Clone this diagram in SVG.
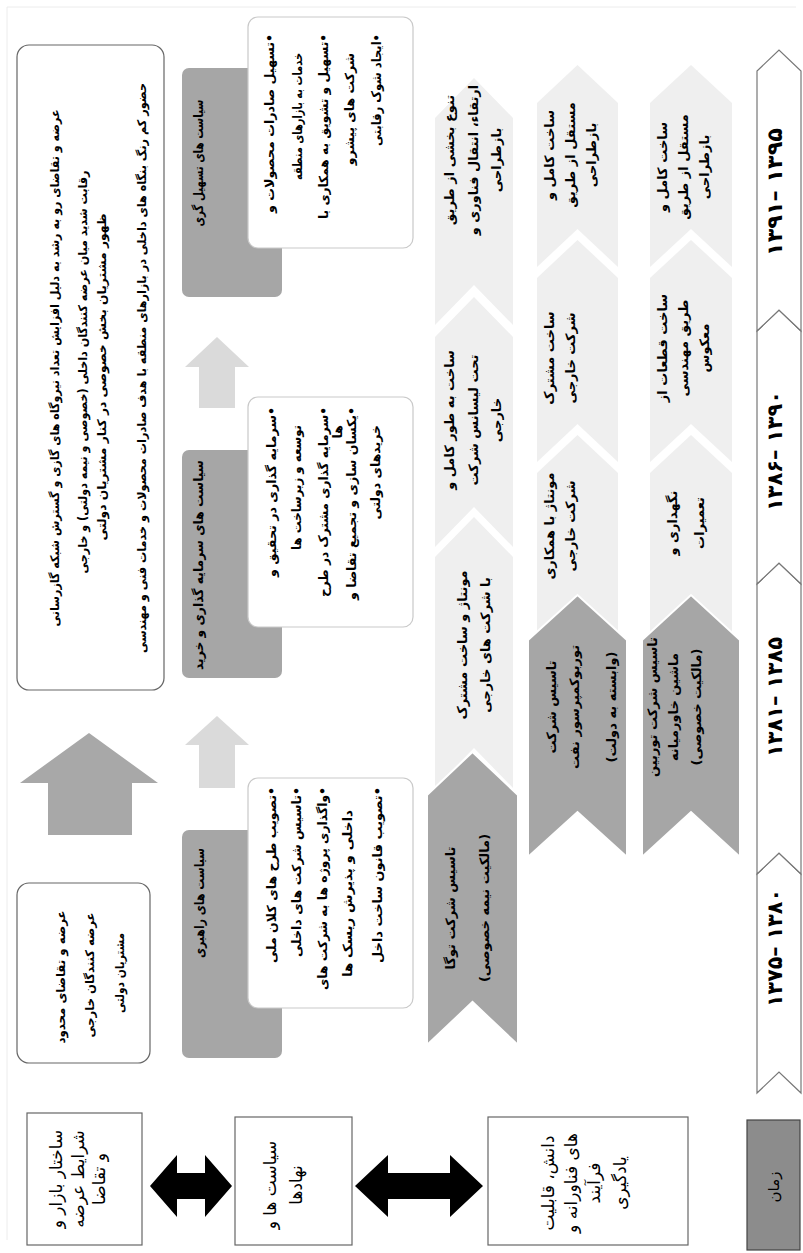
<svg xmlns="http://www.w3.org/2000/svg" width="803" height="1253" viewBox="0 0 803 1253">
<style>
text{font-family:"DejaVu Sans","Noto Sans",sans-serif;fill:#000;}
.r{direction:rtl;text-anchor:middle;}
.rs{direction:rtl;text-anchor:start;}
.t12{font-size:12px;font-weight:bold;}
.b13{font-size:12.5px;font-weight:bold;}
.hd{font-size:13px;font-weight:bold;}
.cv{font-size:13px;font-weight:bold;}
.big{font-size:17px;}
.tl{font-size:21px;font-weight:bold;text-anchor:middle;}
.hdr{fill:#a6a6a6;}
.wbox{fill:#fff;stroke:#c9c9c9;stroke-width:1.2;}
.obox{fill:#fff;stroke:#666;stroke-width:1.2;}
.lch{fill:#efefef;}
.dch{fill:#a6a6a6;stroke:#fff;stroke-width:2;}
.tch{fill:#fff;stroke:#777;stroke-width:1.2;}
.blk{fill:#000;}
.frame{stroke:#ececec;stroke-width:1;fill:none;}
</style>
<rect width="803" height="1253" fill="#fff"/>
<path class="frame" d="M7,1240 V7 H796"/>
<g transform="translate(0 1253) rotate(-90)">
<g id="connectors">
<polygon class="blk" points="67,150 98,177 80,177 80,205 98,205 67,232 36,205 54,205 54,177 36,177"/>
<polygon class="blk" points="67,355 98,388 80,388 80,450 98,450 67,483 36,450 54,450 54,388 36,388"/>
<polygon fill="#a8a8a8" points="418,48 470,48 470,20 520,89 470,158 470,132 418,132"/>
<polygon fill="#dadada" points="465,199 508,199 508,185 537,217 508,249 508,235 465,235"/>
<polygon fill="#dadada" points="845,199 886,199 886,185 916,217 886,249 886,235 845,235"/>
</g>
<g id="n-market">
<rect class="obox" x="8" y="27" width="132" height="115"/>
<text class="r big" x="74" y="62">ساختار بازار و</text>
<text class="r big" x="74" y="84">شرایط عرضه</text>
<text class="r big" x="74" y="105">و تقاضا</text>
</g>
<g id="n-policy">
<rect class="obox" x="8" y="235" width="128" height="117"/>
<text class="r big" x="68" y="276">سیاست ها و</text>
<text class="r big" x="68" y="302">نهادها</text>
</g>
<g id="n-knowledge">
<rect class="obox" x="8" y="488" width="128" height="200"/>
<text class="r big" x="70" y="554">دانش، قابلیت</text>
<text class="r big" x="70" y="577">های فناورانه و</text>
<text class="r big" x="70" y="600">فرآیند</text>
<text class="r big" x="70" y="626">یادگیری</text>
</g>
<g id="n-time">
<rect x="3" y="747" width="130" height="53" fill="#8c8c8c" stroke="#444" stroke-width="1.2"/>
<text class="r" x="66" y="779" font-size="15">زمان</text>
</g>
<g id="n-limited">
<rect class="obox" x="190" y="17" width="180" height="133" rx="12"/>
<text class="r t12" x="276" y="65" textLength="133" lengthAdjust="spacingAndGlyphs">عرضه و تقاضای محدود</text>
<text class="r t12" x="278" y="94" textLength="125" lengthAdjust="spacingAndGlyphs">عرضه کنندگان خارجی</text>
<text class="r t12" x="280" y="124" textLength="80" lengthAdjust="spacingAndGlyphs">مشتریان دولتی</text>
</g>
<g id="n-growing">
<rect class="obox" x="563" y="17" width="645" height="147" rx="12"/>
<text class="r t12" x="885" y="59" textLength="517" lengthAdjust="spacingAndGlyphs">عرضه و تقاضای رو به رشد به دلیل افزایش تعداد نیروگاه های گازی و گسترش شبکه گازرسانی</text>
<text class="r t12" x="881" y="87" textLength="403" lengthAdjust="spacingAndGlyphs">رقابت شدید میان عرضه کنندگان داخلی (خصوصی و نیمه دولتی) و خارجی</text>
<text class="r t12" x="876" y="106" textLength="327" lengthAdjust="spacingAndGlyphs">ظهور مشتریان بخش خصوصی در کنار مشتریان دولتی</text>
<text class="r t12" x="885" y="146" textLength="570" lengthAdjust="spacingAndGlyphs">حضور کم رنگ بنگاه های داخلی در بازارهای منطقه با هدف صادرات محصولات و خدمات فنی و مهندسی</text>
</g>
<g id="n-leadership">
<rect class="hdr" x="195" y="182" width="228" height="100" rx="7"/>
<text class="r hd" x="350" y="204" textLength="110" lengthAdjust="spacingAndGlyphs">سیاست های راهبری</text>
<rect class="wbox" x="245" y="248" width="230" height="165" rx="10"/>
<text class="rs b13" x="466" y="276" textLength="176" lengthAdjust="spacingAndGlyphs">•تصویب طرح های کلان ملی</text>
<text class="rs b13" x="466" y="301" textLength="170" lengthAdjust="spacingAndGlyphs">•تاسیس شرکت های داخلی</text>
<text class="rs b13" x="466" y="327" textLength="203" lengthAdjust="spacingAndGlyphs">•واگذاری پروژه ها به شرکت های</text>
<text class="rs b13" x="443" y="352" textLength="167" lengthAdjust="spacingAndGlyphs">داخلی و پذیرش ریسک ها</text>
<text class="rs b13" x="466" y="382" textLength="176" lengthAdjust="spacingAndGlyphs">•تصویب قانون ساخت داخل</text>
</g>
<g id="n-investment">
<rect class="hdr" x="575" y="182" width="228" height="100" rx="7"/>
<text class="r hd" x="688" y="203" textLength="210" lengthAdjust="spacingAndGlyphs">سیاست های سرمایه گذاری و خرید</text>
<rect class="wbox" x="626" y="248" width="230" height="165" rx="10"/>
<text class="rs b13" x="846" y="276" textLength="170" lengthAdjust="spacingAndGlyphs">•سرمایه گذاری در تحقیق و</text>
<text class="rs b13" x="828" y="301" textLength="125" lengthAdjust="spacingAndGlyphs">توسعه و زیرساخت ها</text>
<text class="rs b13" x="846" y="328" textLength="190" lengthAdjust="spacingAndGlyphs">•سرمایه گذاری مشترک در طرح</text>
<text class="rs b13" x="828" y="342">ها</text>
<text class="rs b13" x="846" y="356" textLength="193" lengthAdjust="spacingAndGlyphs">•یکسان سازی و تجمیع تقاضا و</text>
<text class="rs b13" x="828" y="380">خریدهای دولتی</text>
</g>
<g id="n-facilitation">
<rect class="hdr" x="956" y="182" width="229" height="100" rx="7"/>
<text class="r hd" x="1090" y="203" textLength="127" lengthAdjust="spacingAndGlyphs">سیاست های تسهیل گری</text>
<rect class="wbox" x="1005" y="248" width="231" height="165" rx="10"/>
<text class="rs b13" x="1219" y="274" textLength="179" lengthAdjust="spacingAndGlyphs">•تسهیل صادرات محصولات و</text>
<text class="rs b13" x="1200" y="302" textLength="127" lengthAdjust="spacingAndGlyphs">خدمات به بازارهای منطقه</text>
<text class="rs b13" x="1219" y="328" textLength="185" lengthAdjust="spacingAndGlyphs">•تسهیل و تشویق به همکاری با</text>
<text class="rs b13" x="1200" y="354">شرکت های پیشرو</text>
<text class="rs b13" x="1219" y="381" textLength="112" lengthAdjust="spacingAndGlyphs">•ایجاد شوک رقابتی</text>
</g>
<g id="row1">
<polygon class="lch" points="928,435 1135,435 1175,474 1135,513 928,513 968,474"/>
<polygon class="lch" points="706,435 916,435 956,474 916,513 706,513 746,474"/>
<polygon class="lch" points="465,435 696,435 736,474 696,513 465,513 505,474"/>
<polygon class="dch" points="208,427 458,427 501,472.5 458,518 208,518 251,472.5"/>
<text class="r cv" x="1093" y="454">تنوع بخشی از طریق</text>
<text class="r cv" x="1093" y="478">ارتقاء، انتقال فناوری و</text>
<text class="r cv" x="1093" y="501">بازطراحی</text>
<text class="r cv" x="833" y="454">ساخت به طور کامل و</text>
<text class="r cv" x="833" y="478">تحت لیسانس شرکت</text>
<text class="r cv" x="833" y="501">خارجی</text>
<text class="r cv" x="608" y="467">مونتاژ و ساخت مشترک</text>
<text class="r cv" x="608" y="490">با شرکت های خارجی</text>
<text class="r cv" x="345" y="455">تاسیس شرکت توگا</text>
<text class="r cv" x="345" y="489">(مالکیت نیمه خصوصی)</text>
</g>
<g id="row2">
<polygon class="lch" points="986,537 1150,537 1188,577.5 1150,618 986,618 1024,577.5"/>
<polygon class="lch" points="791,537 975,537 1013,577.5 975,618 791,618 829,577.5"/>
<polygon class="lch" points="620,537 780,537 818,577.5 780,618 620,618 658,577.5"/>
<polygon class="dch" points="396,528 613,528 658,577.5 613,627 396,627 441,577.5"/>
<text class="r cv" x="1098" y="554">ساخت کامل و</text>
<text class="r cv" x="1098" y="575">مستقل از طریق</text>
<text class="r cv" x="1098" y="596">بازطراحی</text>
<text class="r cv" x="895" y="554">ساخت مشترک</text>
<text class="r cv" x="895" y="575">شرکت خارجی</text>
<text class="r cv" x="727" y="554">مونتاژ با همکاری</text>
<text class="r cv" x="727" y="575">شرکت خارجی</text>
<text class="r cv" x="546" y="556">تاسیس شرکت</text>
<text class="r cv" x="546" y="579">توربوکمپرسور نفت</text>
<text class="r cv" x="546" y="616">(وابسته به دولت)</text>
</g>
<g id="row3">
<polygon class="lch" points="986,650 1150,650 1188,691 1150,732 986,732 1024,691"/>
<polygon class="lch" points="791,650 975,650 1013,691 975,732 791,732 829,691"/>
<polygon class="lch" points="620,650 780,650 818,691 780,732 620,732 658,691"/>
<polygon class="dch" points="396,642 613,642 658,691 613,740 396,740 441,691"/>
<text class="r cv" x="1086" y="667">ساخت کامل و</text>
<text class="r cv" x="1086" y="688">مستقل از طریق</text>
<text class="r cv" x="1086" y="709">بازطراحی</text>
<text class="r cv" x="905" y="667">ساخت قطعات از</text>
<text class="r cv" x="905" y="688">طریق مهندسی</text>
<text class="r cv" x="905" y="709">معکوس</text>
<text class="r cv" x="730" y="677">نگهداری و</text>
<text class="r cv" x="730" y="704">تعمیرات</text>
<text class="r cv" x="546" y="657">تاسیس شرکت توربین</text>
<text class="r cv" x="546" y="678">ماشین خاورمیانه</text>
<text class="r cv" x="546" y="701">(مالکیت خصوصی)</text>
</g>
<g id="timeline">
<polygon class="tch" points="160,757 379,757 400,779 379,801 160,801 181,779"/>
<polygon class="tch" points="379,757 669,757 690,779 669,801 379,801 400,779"/>
<polygon class="tch" points="669,757 922,757 943,779 922,801 669,801 690,779"/>
<polygon class="tch" points="922,757 1182,757 1203,779 1182,801 922,801 943,779"/>
<text class="tl" x="305" y="782" textLength="118" lengthAdjust="spacingAndGlyphs">۱۳۷۵– ۱۳۸۰</text>
<text class="tl" x="556" y="782" textLength="120" lengthAdjust="spacingAndGlyphs">۱۳۸۱– ۱۳۸۵</text>
<text class="tl" x="802" y="782" textLength="120" lengthAdjust="spacingAndGlyphs">۱۳۸۶– ۱۳۹۰</text>
<text class="tl" x="1061" y="782" textLength="128" lengthAdjust="spacingAndGlyphs">۱۳۹۱– ۱۳۹۵</text>
</g>
</g>
</svg>
